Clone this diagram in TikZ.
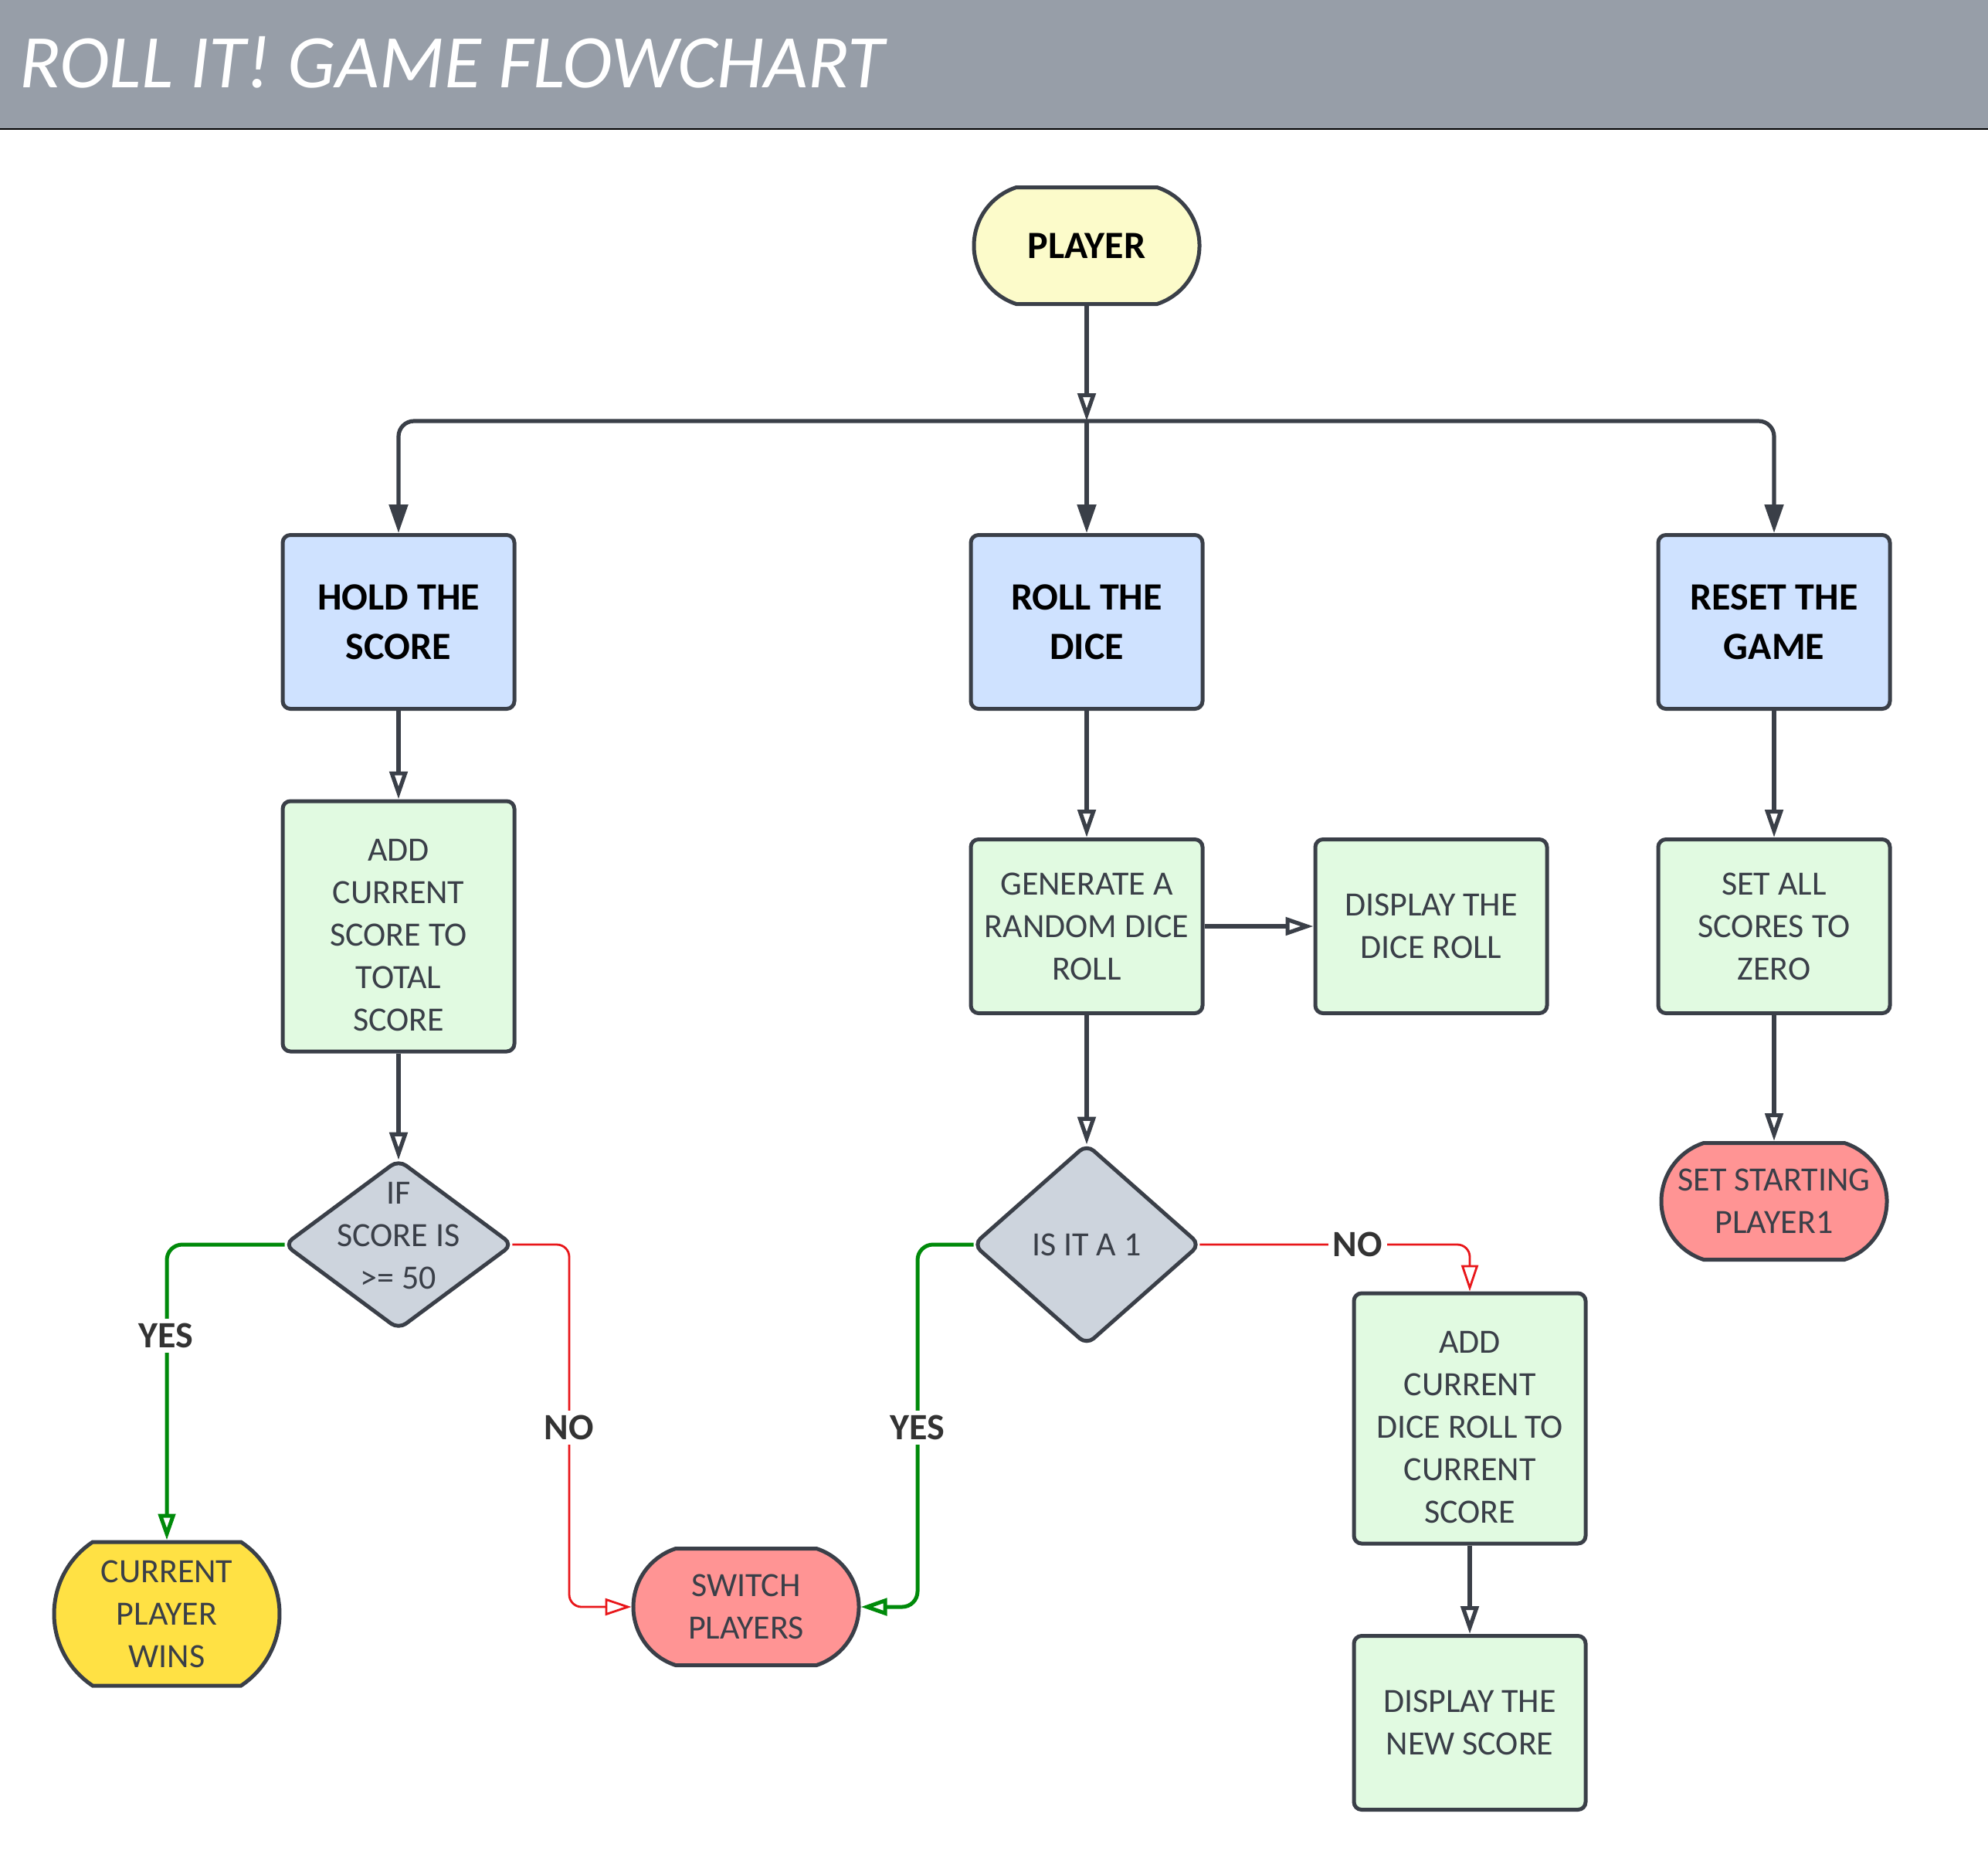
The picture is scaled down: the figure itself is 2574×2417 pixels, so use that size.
\documentclass[tikz,border=0pt]{standalone}
\usepackage{fontspec}
\setmainfont{Carlito}
\usetikzlibrary{arrows.meta,shapes.misc,backgrounds}
\definecolor{bord}{HTML}{3A3F48}
\definecolor{barc}{HTML}{979EA8}
\definecolor{ylight}{HTML}{FCFBCA}
\definecolor{blueb}{HTML}{CFE2FF}
\definecolor{greenb}{HTML}{E1FAE1}
\definecolor{grayd}{HTML}{CDD4DD}
\definecolor{redn}{HTML}{FF9494}
\definecolor{yelln}{HTML}{FFE144}
\definecolor{lgreen}{HTML}{008A0A}
\definecolor{lred}{HTML}{E8161A}
\definecolor{lblc}{HTML}{333333}
\newcommand\lowstrut{\rule{0pt}{26pt}}
\newcommand\deepstrut{\rule[-12pt]{0pt}{0pt}}
\begin{document}
\begin{tikzpicture}[x=0.5pt,y=-0.5pt,
  basebox/.style={rectangle, rounded corners=5pt, draw=bord, line width=2.5pt,
    minimum width=150pt, align=center, inner sep=2pt, text=bord,
    font=\fontsize{22}{27.5}\selectfont},
  topbox/.style={basebox, fill=blueb, minimum height=112.5pt, text=black,
    font=\bfseries\fontsize{25}{32}\selectfont},
  greenbox/.style={basebox, fill=greenb},
  term/.style={rounded rectangle, draw=bord, line width=2.5pt, minimum width=150pt,
    align=center, inner sep=2pt, text=bord, font=\fontsize{22}{27.5}\selectfont},
  dianode/.style={rectangle, inner sep=0pt, align=center, text=bord,
    font=\fontsize{22}{27.5}\selectfont},
  diashape/.style={draw=bord, fill=grayd, line width=2.5pt, rounded corners=6pt},
  conn/.style={draw=bord, line width=2.6pt},
  openarr/.style={-{Triangle[open,length=18pt,width=11.5pt]}},
  fillarr/.style={-{Triangle[length=18.5pt,width=12pt]}},
  yesline/.style={draw=lgreen, line width=2.5pt, rounded corners=10pt, -{Triangle[open,length=17pt,width=11pt]}},
  noline/.style={draw=lred, line width=1.4pt, rounded corners=8pt, -{Triangle[open,length=17pt,width=11pt]}},
  lbl/.style={fill=white, text=lblc, inner sep=3pt, font=\bfseries\fontsize{24}{28}\selectfont}
]
\useasboundingbox (0,0) rectangle (2574,2417);
\fill[barc] (0,0) rectangle (2574,167);
\draw[black, line width=1.2pt] (0,167) -- (2574,167);
\node[anchor=base west, text=white, inner sep=0pt, font=\itshape\fontsize{49}{56}\selectfont] (title) at (25,113) {ROLL IT! GAME FLOWCHART};

% nodes
\node[term, fill=ylight, minimum height=75.5pt, rounded rectangle arc length=144, text=black, font=\bfseries\fontsize{25}{32}\selectfont] (player) at (1407,318) {PLAYER};
\node[topbox] (hold) at (516,805) {HOLD THE\\SCORE};
\node[topbox] (roll) at (1407,805) {ROLL THE\\DICE};
\node[topbox] (reset) at (2297,805) {RESET THE\\GAME};
\node[greenbox, minimum height=162pt] (addscore) at (516,1199) {\lowstrut ADD\\CURRENT\\SCORE TO\\TOTAL\\SCORE};
\node[greenbox, minimum height=112.5pt] (gen) at (1407,1199) {GENERATE A\\RANDOM DICE\\ROLL};
\node[greenbox, minimum height=112.5pt] (disp) at (1853,1199) {DISPLAY THE\\DICE ROLL};
\node[greenbox, minimum height=112.5pt] (setall) at (2297,1199) {SET ALL\\SCORES TO\\ZERO};
\node[dianode, minimum width=147pt, minimum height=109pt] (dia1) at (516,1611) {IF\\SCORE IS\\>= 50\deepstrut};
\node[dianode, minimum width=146pt, minimum height=129pt] (dia2) at (1407,1611) {IS IT A 1};
\node[term, fill=redn, minimum height=75.5pt, rounded rectangle arc length=144] (setstart) at (2297,1555) {SET STARTING\\PLAYER1};
\node[greenbox, minimum height=162pt] (add2) at (1903,1836) {\lowstrut ADD\\CURRENT\\DICE ROLL TO\\CURRENT\\SCORE};
\node[greenbox, minimum height=112.5pt] (newscore) at (1903,2230) {DISPLAY THE\\NEW SCORE};
\node[term, fill=yelln, minimum height=93pt, rounded rectangle arc length=113] (wins) at (216,2089) {CURRENT\\PLAYER\\WINS};
\node[term, fill=redn, minimum height=75.5pt, rounded rectangle arc length=144] (switch) at (966,2080) {SWITCH\\PLAYERS};

\begin{scope}[on background layer]
  \path[diashape] (dia1.north) -- (dia1.east) -- (dia1.south) -- (dia1.west) -- cycle;
  \path[diashape] (dia2.north) -- (dia2.east) -- (dia2.south) -- (dia2.west) -- cycle;
\end{scope}

% coordinates
\coordinate (br) at (1407,545);
\coordinate (c1) at (737,1800);
\coordinate (c2) at (1188,1800);

% connectors
\draw[conn, openarr] (player.south) -- (br);
\draw[conn, fillarr, rounded corners=10pt] (br) -| (hold.north);
\draw[conn, fillarr, rounded corners=10pt] (br) -| (reset.north);
\draw[conn, fillarr] (br) -- (roll.north);
\draw[conn, openarr] (hold.south) -- (addscore.north);
\draw[conn, openarr] (addscore.south) -- (dia1.north);
\draw[conn, openarr] (roll.south) -- (gen.north);
\draw[conn, openarr] (gen.east) -- (disp.west);
\draw[conn, openarr] (gen.south) -- (dia2.north);
\draw[conn, openarr] (reset.south) -- (setall.north);
\draw[conn, openarr] (setall.south) -- (setstart.north);
\draw[conn, openarr] (add2.south) -- (newscore.north);

\draw[yesline] (dia1.west) -| (wins.north);
\draw[noline] (dia1.east) -| (c1) |- (switch.west);
\draw[yesline] (dia2.west) -| (c2) |- (switch.east);
\draw[noline] (dia2.east) -| (add2.north);

% labels
\node[lbl] (yes1) at (215,1729) {YES};
\node[lbl] (no1) at (737,1848) {NO};
\node[lbl] (yes2) at (1188,1848) {YES};
\node[lbl] (no2) at (1758,1611) {NO};
\end{tikzpicture}
\end{document}
